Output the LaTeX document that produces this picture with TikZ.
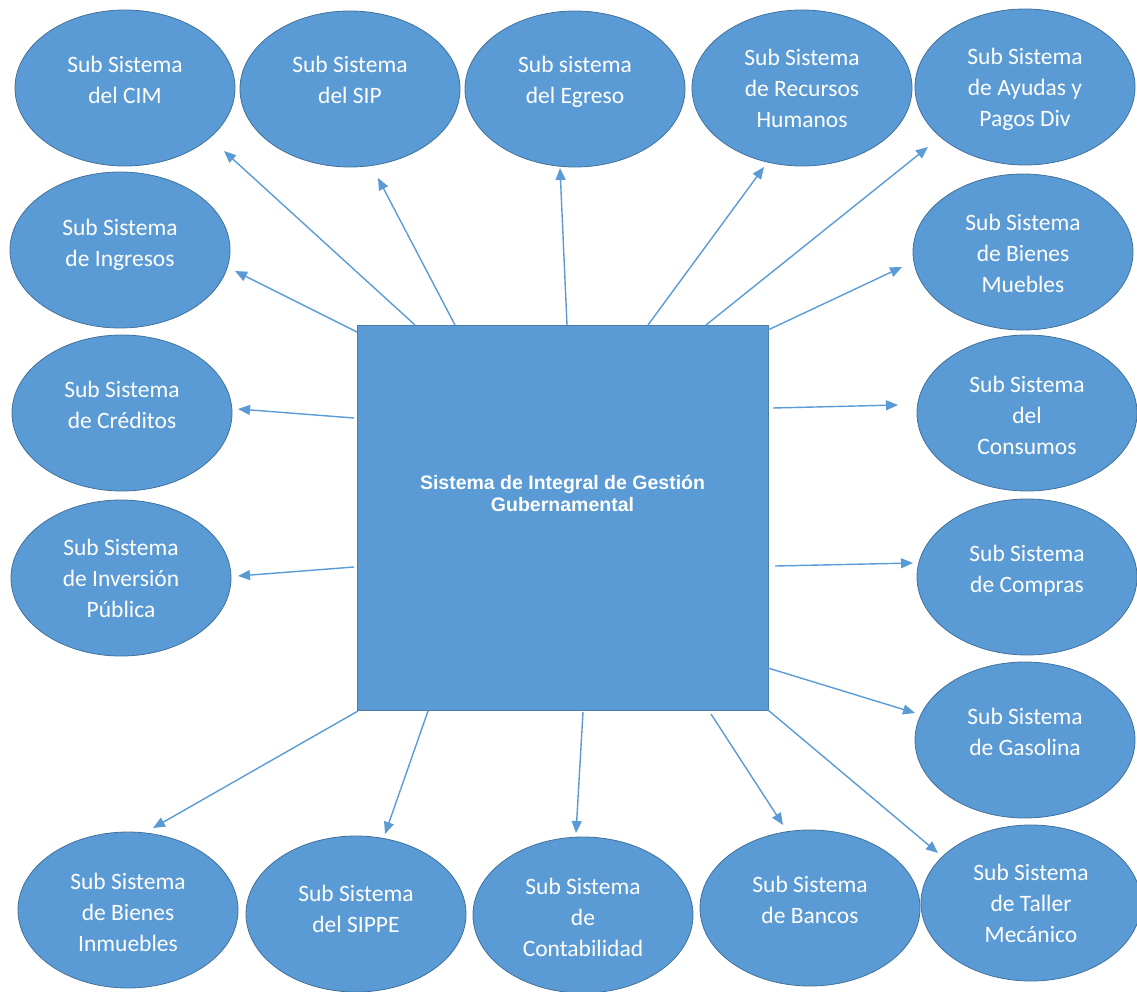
\documentclass[tikz,border=0pt]{standalone}
\usepackage{fontspec}
\setmainfont{Carlito}
\newfontfamily\boxfont{Liberation Sans}
\usetikzlibrary{arrows.meta,shapes.geometric}
\definecolor{fillblue}{HTML}{5B9BD5}
\definecolor{edgeblue}{HTML}{41719C}
\tikzset{
  sub/.style={ellipse, fill=fillblue, draw=edgeblue, line width=0.8pt,
    minimum width=220pt, minimum height=156pt, inner sep=0pt},
  subtxt/.style={anchor=base, align=center, text=white, inner sep=0pt,
    font=\fontsize{23.5}{31}\selectfont},
  mainbox/.style={rectangle, fill=fillblue, draw=edgeblue!70!fillblue, line width=0.8pt,
    minimum width=411pt, minimum height=385pt, inner sep=0pt},
  maintxt/.style={align=center, text=white, inner sep=0pt,
    font=\boxfont\bfseries\fontsize{19.5}{22}\selectfont},
  conn/.style={draw=fillblue, line width=1.4pt,
    -{Triangle[length=12pt,width=10pt]}}
}
\begin{document}
\begin{tikzpicture}[x=1pt,y=-1pt]
\useasboundingbox (0,0) rectangle (1137,992);

% central box
\node[mainbox] (box) at (562.5,517.5) {};
\node[maintxt] (boxt) at (562.5,493) {Sistema de Integral de Gestión\\Gubernamental};

% ellipses (text nodes anchored at the baseline of their last line)
\node[sub] (cim) at (125,88) {};
\node[subtxt] (cimt) at (125,104) {Sub Sistema\\del CIM};
\node[sub] (sip) at (350,89) {};
\node[subtxt] (sipt) at (350,104) {Sub Sistema\\del SIP};
\node[sub] (egr) at (575,89) {};
\node[subtxt] (egrt) at (575,104) {Sub sistema\\del Egreso};
\node[sub] (rh) at (802,88) {};
\node[subtxt] (rht) at (802,128) {Sub Sistema\\de Recursos\\Humanos};
\node[sub] (ayu) at (1025,87) {};
\node[subtxt] (ayut) at (1025,127) {Sub Sistema\\de Ayudas y\\Pagos Div};
\node[sub] (bmu) at (1023,252) {};
\node[subtxt] (bmut) at (1023,292) {Sub Sistema\\de Bienes\\Muebles};
\node[sub] (ing) at (120,250) {};
\node[subtxt] (ingt) at (120,266) {Sub Sistema\\de Ingresos};
\node[sub] (cre) at (122,413) {};
\node[subtxt] (cret) at (122,428) {Sub Sistema\\de Créditos};
\node[sub] (inv) at (121,578) {};
\node[subtxt] (invt) at (121,617) {Sub Sistema\\de Inversión\\Pública};
\node[sub] (con) at (1027,413) {};
\node[subtxt] (cont) at (1027,454) {Sub Sistema\\del\\Consumos};
\node[sub] (com) at (1027,577) {};
\node[subtxt] (comt) at (1027,592) {Sub Sistema\\de Compras};
\node[sub] (gas) at (1025,740) {};
\node[subtxt] (gast) at (1025,755) {Sub Sistema\\de Gasolina};
\node[sub] (tal) at (1031,903) {};
\node[subtxt] (talt) at (1031,942) {Sub Sistema\\de Taller\\Mecánico};
\node[sub] (ban) at (810,908) {};
\node[subtxt] (bant) at (810,923) {Sub Sistema\\de Bancos};
\node[sub] (cnt) at (583,915) {};
\node[subtxt] (cntt) at (583,956) {Sub Sistema\\de\\Contabilidad};
\node[sub] (sipe) at (356,914) {};
\node[subtxt] (sipet) at (356,932) {Sub Sistema\\del SIPPE};
\node[sub] (bin) at (128,910) {};
\node[subtxt] (bint) at (128,951) {Sub Sistema\\de Bienes\\Inmuebles};

% connector end points
\coordinate (s-cim) at (415,325);  \coordinate (t-cim) at (224,151);
\coordinate (s-sip) at (455,325);  \coordinate (t-sip) at (378,178);
\coordinate (s-egr) at (567,325);  \coordinate (t-egr) at (560,168);
\coordinate (s-rh)  at (648,325);  \coordinate (t-rh)  at (764,167);
\coordinate (s-ayu) at (706,325);  \coordinate (t-ayu) at (928,147);
\coordinate (s-bmu) at (768,330);  \coordinate (t-bmu) at (902,267);
\coordinate (s-ing) at (357,332);  \coordinate (t-ing) at (235,271);
\coordinate (s-cre) at (354,418);  \coordinate (t-cre) at (238,409);
\coordinate (s-inv) at (354,567);  \coordinate (t-inv) at (238,576);
\coordinate (s-con) at (773,408);  \coordinate (t-con) at (898,405);
\coordinate (s-com) at (775,566);  \coordinate (t-com) at (913,563);
\coordinate (s-gas) at (768,668);  \coordinate (t-gas) at (915,713);
\coordinate (s-tal) at (768,710);  \coordinate (t-tal) at (938,853);
\coordinate (s-ban) at (711,714);  \coordinate (t-ban) at (783,825);
\coordinate (s-cnt) at (583,712);  \coordinate (t-cnt) at (576,833);
\coordinate (s-sipe) at (428,711); \coordinate (t-sipe) at (385,834);
\coordinate (s-bin) at (358,711);  \coordinate (t-bin) at (153,828);

\foreach \n in {cim,sip,egr,rh,ayu,bmu,ing,cre,inv,con,com,gas,tal,ban,cnt,sipe,bin}
  \draw[conn] (s-\n) -- (t-\n);
\end{tikzpicture}
\end{document}
